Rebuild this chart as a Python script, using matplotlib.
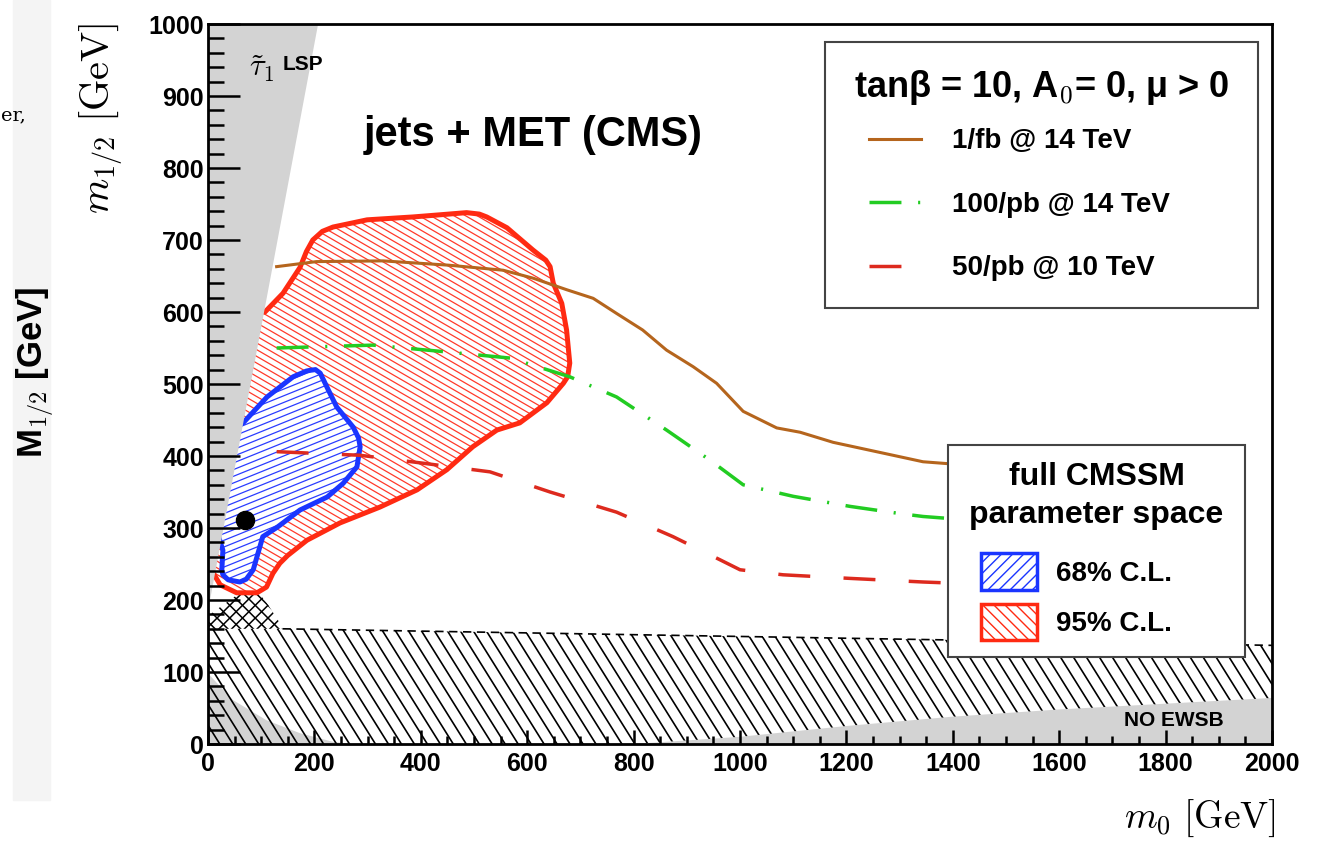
import numpy as np
import matplotlib
matplotlib.use("Agg")
import matplotlib.pyplot as plt
from matplotlib.patches import Polygon, Rectangle, Patch
from matplotlib.collections import LineCollection
from matplotlib.lines import Line2D
from matplotlib.legend_handler import HandlerLine2D, HandlerPatch
from matplotlib.font_manager import FontProperties

plt.rcParams['font.family'] = ['Liberation Sans', 'DejaVu Sans']
plt.rcParams['font.weight'] = 'bold'
plt.rcParams['mathtext.fontset'] = 'cm'
plt.rcParams['lines.scale_dashes'] = False

# --- reach curves (m0, m1/2) in GeV ---
m0_1fb = [129, 204, 329, 453, 555, 611, 674, 724, 768, 817, 862, 912, 956, 1006, 1069, 1113, 1175, 1269, 1344, 1450]
m12_1fb = [663, 670, 671, 665, 658, 647, 631, 619, 598, 575, 547, 524, 501, 462, 439, 433, 419, 404, 392, 386]

m0_100pb = [129, 310, 442, 568, 680, 768, 862, 944, 1006, 1100, 1207, 1301, 1344, 1450]
m12_100pb = [550, 554, 545, 536, 510, 482, 436, 394, 360, 344, 330, 320, 316, 310]

m0_50pb = [129, 286, 404, 530, 643, 768, 874, 962, 1000, 1081, 1207, 1344, 1450]
m12_50pb = [406, 401, 390, 378, 350, 322, 288, 256, 242, 235, 230, 225, 222]

# --- full CMSSM fit contours ---
cl95_m0 = [107, 141, 173, 185, 197, 215, 235, 299, 385, 436, 486, 510, 524, 562, 611, 635, 643, 649, 665,
           674, 680, 676, 668, 637, 586, 543, 498, 449, 393, 323, 248, 186, 150, 135, 122, 110, 92, 54,
           23, 10, -5, 50, 90]
cl95_m12 = [600, 626, 662, 684, 700, 712, 718, 728, 732, 735, 738, 736, 732, 717, 686, 672, 663, 640, 612,
            575, 529, 510, 501, 474, 446, 436, 413, 381, 353, 329, 307, 283, 262, 251, 237, 218, 210, 210,
            221, 237, 245, 470, 600]

cl68_m0 = [66, 111, 160, 185, 192, 202, 211, 226, 242, 273, 283, 286, 280, 254, 224, 173, 130, 103, 94,
           85, 72, 60, 38, 28, 26, 28, 15, 35, 52]
cl68_m12 = [446, 482, 510, 518, 519, 520, 515, 492, 468, 440, 425, 413, 385, 362, 343, 325, 301, 288, 265,
            242, 229, 225, 228, 235, 242, 269, 300, 380, 440]

bestfit_m0 = [70]
bestfit_m12 = [311]

# --- excluded regions ---
stau_m0 = [0, 207, 0]
stau_m12 = [185, 1000, 1000]

lowleft_m0 = [0, 0, 47, 110, 173, 235, 270]
lowleft_m12 = [0, 98, 61, 33, 15, 3, 0]

ewsb_m0 = [800, 1000, 1200, 1400, 1600, 1800, 2000, 2000]
ewsb_m12 = [0, 10, 25, 38, 48, 56, 64, 0]

lep_m0 = [0, 2000, 2000, 0]
lep_m12 = [0, 0, 137, 162]
lep_top_m0 = [140, 2000]
lep_top_m12 = [160, 137]

cross_m0 = [0, 0, 79, 107, 135, 140]
cross_m12 = [160, 178, 220, 200, 168, 160]

labels_reach = ['1/fb @ 14 TeV', '100/pb @ 14 TeV', '50/pb @ 10 TeV']
labels_cl = ['68% C.L.', '95% C.L.']

fig = plt.figure(figsize=(13.21, 8.41), dpi=100)
ax = fig.add_axes([208 / 1321, 97 / 841, 1064 / 1321, 720 / 841])
ax.set_xlim(0, 2000)
ax.set_ylim(0, 1000)
ax.set_autoscale_on(False)


def hatch(xs, ys, angle, spacing, color, lw, z):
    # parallel lines at a fixed screen angle, clipped to the polygon
    verts = np.column_stack([xs, ys])
    clip = Polygon(verts, closed=True, fill=False, edgecolor='none')
    ax.add_patch(clip)
    pix = ax.transData.transform(verts)
    c = pix.mean(axis=0)
    r = np.hypot(*(pix - c).T).max() + spacing
    a = np.deg2rad(angle)
    d = np.array([np.cos(a), np.sin(a)])
    n = np.array([-np.sin(a), np.cos(a)])
    inv = ax.transData.inverted()
    segs = [inv.transform(np.array([c + o * n - r * d, c + o * n + r * d]))
            for o in np.arange(-r, r + spacing, spacing)]
    lc = LineCollection(segs, colors=color, linewidths=lw, zorder=z)
    ax.add_collection(lc)
    lc.set_clip_path(clip)


gray = '#d3d3d3'
ax.fill(lowleft_m0, lowleft_m12, color=gray, lw=0, zorder=1)
hatch(lep_m0, lep_m12, -58, 11, 'black', 1.2, 1.2)
ax.plot(lep_top_m0, lep_top_m12, color='black', lw=1.2, ls=(0, (6, 4)), zorder=1.2)

ax.fill(cross_m0, cross_m12, color='white', lw=0, zorder=1.3)
hatch(cross_m0, cross_m12, 45, 9, 'black', 1.1, 1.35)
hatch(cross_m0, cross_m12, -45, 9, 'black', 1.1, 1.35)

red = '#ff2a12'
blue = '#1a35ff'
ax.fill(cl95_m0, cl95_m12, color='white', lw=0, zorder=2)
hatch(cl95_m0, cl95_m12, -30, 5.8, '#ff3a2a', 0.9, 2.05)
ax.add_patch(Polygon(np.column_stack([cl95_m0, cl95_m12]), closed=True, fill=False,
                     edgecolor=red, lw=3.6, joinstyle='round', zorder=2.1))

ax.fill(cl68_m0, cl68_m12, color='white', lw=0, zorder=2.2)
hatch(cl68_m0, cl68_m12, 22, 6.2, '#2a3cff', 0.9, 2.25)
ax.add_patch(Polygon(np.column_stack([cl68_m0, cl68_m12]), closed=True, fill=False,
                     edgecolor=blue, lw=3.6, joinstyle='round', zorder=2.3))

ax.fill(stau_m0, stau_m12, color=gray, lw=0, zorder=2.5)
ax.fill(ewsb_m0, ewsb_m12, color=gray, lw=0, zorder=2.5)

l1, = ax.plot(m0_1fb, m12_1fb, color='#b5651d', lw=2.2, zorder=3)
l2, = ax.plot(m0_100pb, m12_100pb, color='#22cc22', lw=2.5, ls=(0, (23, 12, 1.5, 12)), zorder=3)
l3, = ax.plot(m0_50pb, m12_50pb, color='#dd2a1e', lw=2.5, ls=(0, (23, 24)), zorder=3)

ax.plot(bestfit_m0, bestfit_m12, 'o', color='black', ms=13, zorder=4)

ax.text(0.3055, 0.846, 'jets + MET (CMS)', transform=ax.transAxes, fontsize=30,
        ha='center', va='center', zorder=4)
ax.text(0.0385, 0.938, r'$\tilde{\tau}_1$', transform=ax.transAxes, fontsize=22,
        ha='left', va='center', zorder=4)
ax.text(0.070, 0.944, 'LSP', transform=ax.transAxes, fontsize=15,
        ha='left', va='center', zorder=4)
ax.text(0.908, 0.033, 'NO EWSB', transform=ax.transAxes, fontsize=15,
        ha='center', va='center', zorder=4)

fs1 = 20
leg1 = ax.legend(handles=[l1, l2, l3], labels=labels_reach,
                 title='tanβ = 10, A$_\\mathbf{0}$= 0, μ > 0',
                 title_fontproperties=FontProperties(family='Liberation Sans', weight='bold', size=26),
                 prop=FontProperties(family='Liberation Sans', weight='bold', size=fs1),
                 handler_map={Line2D: HandlerLine2D(xpad=0.62)},
                 loc='upper left', bbox_to_anchor=(0.580, 0.610, 0.407, 0.365), mode='expand',
                 borderaxespad=0, borderpad=0.95, labelspacing=1.35, handlelength=2.5,
                 handletextpad=1.1, fancybox=False, framealpha=1, edgecolor='#444444')
leg1._legend_box.sep = 15
leg1.get_frame().set_linewidth(1.5)
leg1.set_zorder(5)
ax.add_artist(leg1)

p68 = Patch(facecolor='white', edgecolor=blue, hatch='///', lw=2.5)
p95 = Patch(facecolor='white', edgecolor=red, hatch='\\\\\\', lw=2.5)
leg2 = ax.legend(handles=[p68, p95], labels=labels_cl,
                 title='full CMSSM\nparameter space',
                 title_fontproperties=FontProperties(family='Liberation Sans', weight='bold', size=23),
                 prop=FontProperties(family='Liberation Sans', weight='bold', size=20),
                 handler_map={Patch: HandlerPatch(xpad=0.58)},
                 loc='upper left', bbox_to_anchor=(0.6955, 0.1236, 0.279, 0.2917), mode='expand',
                 borderaxespad=0, borderpad=0.6, labelspacing=0.5, handlelength=2.62,
                 handleheight=1.65, handletextpad=0.65, fancybox=False, framealpha=1,
                 edgecolor='#444444')
leg2._legend_box.sep = 17
leg2.get_title().set_multialignment('center')
leg2.get_title().set_linespacing(1.35)
leg2.get_frame().set_linewidth(1.5)
leg2.set_zorder(5)

ax.set_xticks(np.arange(0, 2001, 200))
ax.set_yticks(np.arange(0, 1001, 100))
ax.set_xticks(np.arange(0, 2001, 50), minor=True)
ax.set_yticks(np.arange(0, 1001, 20), minor=True)
ax.tick_params(axis='both', which='both', direction='in', width=1.8, top=False, right=False,
               labelsize=18)
ax.tick_params(axis='y', which='major', length=23, pad=3)
ax.tick_params(axis='y', which='minor', length=11.5)
ax.tick_params(axis='x', which='major', length=10, pad=6)
ax.tick_params(axis='x', which='minor', length=6)
for lab in ax.get_xticklabels() + ax.get_yticklabels():
    lab.set_fontweight('bold')
for s in ax.spines.values():
    s.set_linewidth(2.0)
    s.set_zorder(6)
ax.xaxis.set_zorder(6)
ax.yaxis.set_zorder(6)

fig.text(1276 / 1321, 1 - 818 / 841, r'$m_0\ [\mathrm{GeV}]$', fontsize=27, ha='right', va='center')
fig.text(101 / 1321, 1 - 118 / 841, r'$m_{1/2}\ [\mathrm{GeV}]$', fontsize=29, rotation=90,
         ha='center', va='center')

# strip of the neighbouring figure at the left edge
fig.patches.append(Rectangle((13 / 1321, 41 / 841), 37 / 1321, 800 / 841,
                             transform=fig.transFigure, color='#f4f4f4', zorder=0))
fig.text(36 / 1321, 1 - 372 / 841, r'M$_{1/2}$ [GeV]', fontsize=25, rotation=90,
         ha='center', va='center')
fig.text(26 / 1321, 1 - 115 / 841, 'er,', fontsize=14, family='DejaVu Serif',
         weight='normal', ha='right', va='center')

fig.savefig('out.png', dpi=100)
